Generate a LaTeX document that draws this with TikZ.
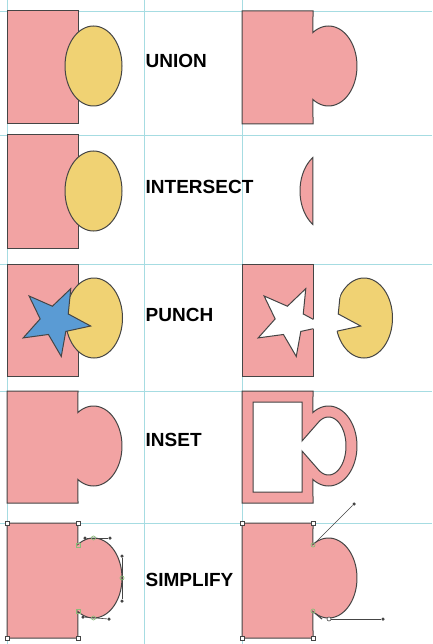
\documentclass[tikz,border=0pt]{standalone}
\usepackage{fontspec}
\setmainfont{Liberation Sans}
\definecolor{gridc}{HTML}{A6DCE2}
\definecolor{pinkc}{HTML}{F2A3A3}
\definecolor{yellowc}{HTML}{F0D273}
\definecolor{bluec}{HTML}{5A9BD4}
\definecolor{edgec}{HTML}{454545}
\definecolor{greenc}{HTML}{8DBB7A}
\newcommand{\unionpath}[4]{(#1,#2) -- ({#1+71},#2) -- plot[domain=123:-123,samples=60] ({#1+86.5+28.5*cos(\x)},{#4-40*sin(\x)}) -- ({#1+71},#3) -- (#1,#3) -- cycle}
\newcommand{\starpath}[2]{plot[samples at={0,...,9}] ({#1+(25.5+10.5*cos(180*\x))*cos(64+36*\x)},{#2-(25.5+10.5*cos(180*\x))*sin(64+36*\x)}) -- cycle}
\tikzset{
  gridline/.style={draw=gridc, line width=0.8pt},
  pinkshape/.style={fill=pinkc, draw=edgec, line width=1pt},
  yellowshape/.style={fill=yellowc, draw=edgec, line width=1pt},
  blueshape/.style={fill=bluec, draw=edgec, line width=1pt},
  outline/.style={draw=edgec, line width=1pt},
  lbl/.style={font=\fontsize{19}{21}\selectfont\bfseries, anchor=west, inner sep=0pt, text=black},
  anchorsq/.style={rectangle, draw=edgec, fill=white, line width=0.6pt, minimum size=4pt, inner sep=0pt},
  anchorgr/.style={circle, draw=greenc, line width=0.7pt, minimum size=4pt, inner sep=0pt},
  anchorgrsq/.style={rectangle, draw=greenc, line width=0.7pt, minimum size=4pt, inner sep=0pt},
  hdot/.style={circle, fill=edgec, minimum size=3.5pt, inner sep=0pt},
  handle/.style={draw=edgec, line width=0.6pt},
}
\begin{document}
\begin{tikzpicture}[x=1pt,y=-1pt]
\useasboundingbox[fill=white] (0,0) rectangle (432,644);
% grid
\foreach \yy in {11,135,264,391,523} \draw[gridline] (0,\yy) -- (432,\yy);
\foreach \xx in {7,144,242} \draw[gridline] (\xx,0) -- (\xx,644);

% ---------- Row 1: UNION
\path[pinkshape] (7,11) rectangle (78,124);
\path[yellowshape] (93.5,66) ellipse [x radius=28.5pt, y radius=40pt];
\node[lbl] (union) at (145.5,61) {UNION};
\path[pinkshape] \unionpath{242}{11}{124}{66};

% ---------- Row 2: INTERSECT
\path[pinkshape] (7,135) rectangle (78,248);
\path[yellowshape] (93.5,191) ellipse [x radius=28.5pt, y radius=40pt];
\node[lbl] (intersect) at (145.5,187) {INTERSECT};
\path[pinkshape] plot[domain=123:237,samples=40] ({328.5+28.5*cos(\x)},{191-40*sin(\x)}) -- cycle;

% ---------- Row 3: PUNCH
\path[pinkshape] (7,264) rectangle (78,376);
\path[yellowshape] (94,318) ellipse [x radius=28.5pt, y radius=40pt];
\path[blueshape] \starpath{55}{321};
\node[lbl] (punch) at (145.5,315) {PUNCH};
% right: rect with star hole
\path[pinkshape] (242,264) rectangle (313,376);
\fill[white] \starpath{290}{321};
\begin{scope}
  \clip (242,264) rectangle (313,376);
  \path[outline] \starpath{290}{321};
\end{scope}
% right: punched ellipse moved right
\path[yellowshape] (364,318) ellipse [x radius=28.5pt, y radius=40pt];
\begin{scope}
  \clip (364,318) ellipse [x radius=30.5pt, y radius=42pt];
  \fill[white] \starpath{325}{321};
\end{scope}
\begin{scope}
  \clip (364,318) ellipse [x radius=28.5pt, y radius=40pt];
  \path[outline] \starpath{325}{321};
\end{scope}

% ---------- Row 4: INSET
\path[pinkshape] \unionpath{7}{391}{503}{446};
\node[lbl] (inset) at (145.5,440) {INSET};
\path[pinkshape, even odd rule] \unionpath{242}{391}{503}{446}
  (253,402) -- (302,402) -- (302,441)
  -- plot[domain=125:-125,samples=60] ({328.5+17.5*cos(\x)},{446-29*sin(\x)})
  -- (302,451) -- (302,492) -- (253,492) -- cycle;

% ---------- Row 5: SIMPLIFY
\path[pinkshape] \unionpath{7}{523}{638}{578};
\node[lbl] (simplify) at (145.5,580) {SIMPLIFY};
% left handles
\node[hdot] (lt1) at (85,538) {};
\node[hdot] (lt2) at (110,538) {};
\draw[handle] (lt1) -- (lt2);
\node[hdot] (lr1) at (122,556) {};
\node[hdot] (lr2) at (122,601) {};
\draw[handle] (lr1) -- (lr2);
\node[hdot] (lb1) at (83,617) {};
\node[hdot] (lb2) at (109,619) {};
\draw[handle] (lb1) -- (lb2);
\node[anchorgr] (la1) at (93.5,538) {};
\node[anchorgr] (la2) at (122,578) {};
\node[anchorgr] (la3) at (93.5,618) {};
\node[anchorgrsq] (lj1) at (78,545) {};
\node[anchorgrsq] (lj2) at (78,611) {};
\node[anchorsq] (lc1) at (7,523) {};
\node[anchorsq] (lc2) at (78,523) {};
\node[anchorsq] (lc3) at (7,638) {};
\node[anchorsq] (lc4) at (78,638) {};
% right
\path[pinkshape] \unionpath{242}{523}{638}{578};
\node[anchorgr] (rj1) at (313,545) {};
\node[hdot] (rh1) at (354,504) {};
\draw[handle] (rj1) -- (rh1);
\node[anchorgr] (rj2) at (313,611) {};
\node[circle, draw=edgec, fill=white, line width=0.6pt, minimum size=4pt, inner sep=0pt] (rb) at (329,619) {};
\node[hdot] (rh2) at (383,619) {};
\draw[handle] (rb) -- (rh2);
\coordinate (cm1) at (316,614);
\coordinate (cm2) at (322,619);
\draw[edgec, line width=1.2pt] (cm1) -- (cm2);
\node[anchorsq] (rc1) at (242,523) {};
\node[anchorsq] (rc2) at (313,523) {};
\node[anchorsq] (rc3) at (242,638) {};
\node[anchorsq] (rc4) at (313,638) {};
\end{tikzpicture}
\end{document}
